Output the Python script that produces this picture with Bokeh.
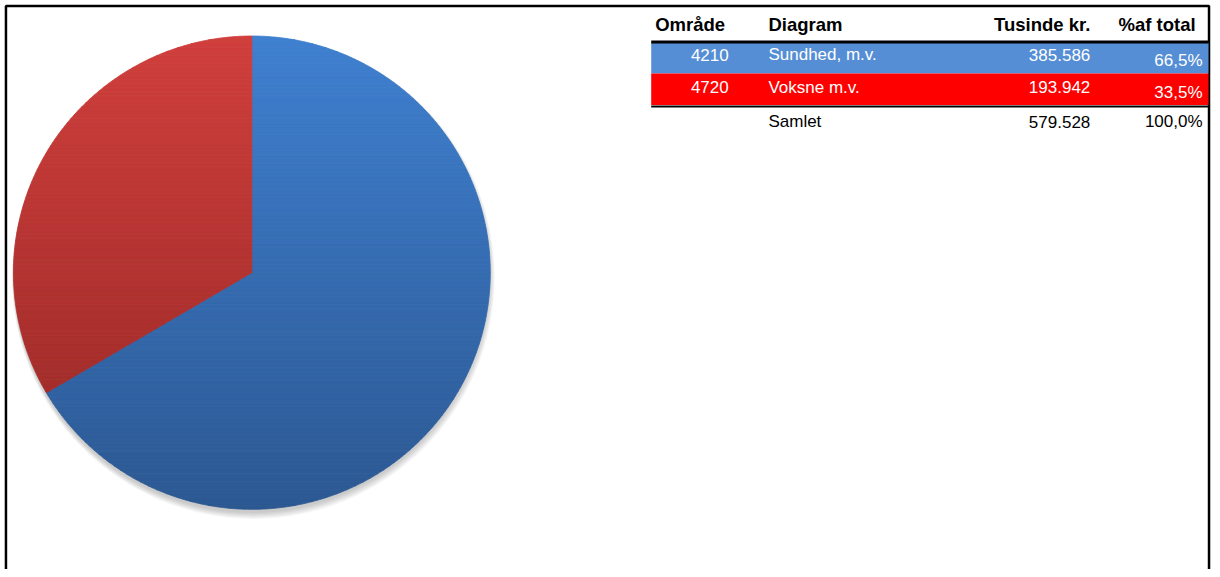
import math
from bokeh.plotting import figure
from bokeh.models import Range1d
from bokeh.core.properties import value
from bokeh.embed import file_html
from bokeh.resources import INLINE

# ---- data ----
omraade = ["4210", "4720"]
diagram = ["Sundhed, m.v.", "Voksne m.v."]
tusinde_kr = [385586, 193942]
row_colors = ["#558ed5", "#ff0000"]
headers = ["Område", "Diagram", "Tusinde kr.", "%af total"]
total_label = "Samlet"
# gradient (top, bottom) colours of the pie slices
slice_grad = [("#3f80d0", "#2c5892"), ("#d03f3c", "#952725")]

W, H = 1212, 569
p = figure(width=W, height=H, output_backend="svg", toolbar_location=None,
           x_range=Range1d(0, 1220), y_range=Range1d(577, 0),
           min_border=0, outline_line_color=None)
p.axis.visible = False
p.grid.visible = False
p.background_fill_color = "white"

FONT = value("Liberation Sans")

# ---- frame ----
p.line([5.5, 5.5, 1216.5, 1216.5], [600, 5.5, 5.5, 600],
       line_color="black", line_width=2.5)

# ---- pie ----
cx, cy, r = 253.0, 276.0, 240.0
total = sum(tusinde_kr)

# soft shadow
for k in range(6):
    p.circle(x=[cx + 0.3 * k], y=[cy + 2 + 0.6 * k], radius=r + 0.6 * k,
             fill_color="#000000", fill_alpha=0.035, line_color=None)

def hex2rgb(h):
    return tuple(int(h[i:i + 2], 16) for i in (1, 3, 5))

def mix(c0, c1, t):
    a, b = hex2rgb(c0), hex2rgb(c1)
    return "#%02x%02x%02x" % tuple(int(round(a[i] + (b[i] - a[i]) * t)) for i in range(3))

def clip_half(poly, y0, keep_above):
    out = []
    n = len(poly)
    for i in range(n):
        P, Q = poly[i], poly[(i + 1) % n]
        pin = P[1] >= y0 if keep_above else P[1] <= y0
        qin = Q[1] >= y0 if keep_above else Q[1] <= y0
        if pin:
            out.append(P)
        if pin != qin:
            t = (y0 - P[1]) / (Q[1] - P[1])
            out.append((P[0] + t * (Q[0] - P[0]), y0))
    return out

xs_all, ys_all, cols = [], [], []
start = 90.0
nb = 120
band_h = 2 * r / nb
for v, (ct, cb) in zip(tusinde_kr, slice_grad):
    span = v / total * 360.0
    a0, a1 = start, start - span
    steps = max(8, int(span * 2))
    poly = [(cx, cy)]
    for i in range(steps + 1):
        a = math.radians(a0 + (a1 - a0) * i / steps)
        poly.append((cx + r * math.cos(a), cy - r * math.sin(a)))
    for b in range(nb):
        y0 = cy - r + b * band_h
        y1 = y0 + band_h
        c = clip_half(poly, y0, True)
        if len(c) < 3:
            continue
        c = clip_half(c, y1, False)
        if len(c) < 3:
            continue
        col = mix(ct, cb, (b + 0.5) / nb)
        xs_all.append([q[0] for q in c])
        ys_all.append([q[1] for q in c])
        cols.append(col)
    start = a1

p.patches(xs_all, ys_all, fill_color=cols, line_color=cols, line_width=0.8)

# ---- table ----
tx0, tx1 = 655, 1216
row_top = [43, 74]
row_bot = [74, 106]
for i, c in enumerate(row_colors):
    p.quad(left=tx0, right=tx1, top=row_top[i], bottom=row_bot[i],
           fill_color=c, line_color=None)
p.line([tx0, tx1], [42, 42], line_color="black", line_width=3)
p.line([tx0, tx1], [107.5, 107.5], line_color="black", line_width=2)

hdr_y = 24
HFS = "18.5px"
p.text(x=[659, 773], y=[hdr_y, hdr_y], text=headers[:2],
       text_font=FONT, text_font_style="bold", text_font_size=HFS,
       text_align="left", text_baseline="middle", text_color="black")
p.text(x=[1097, 1203], y=[hdr_y, hdr_y], text=headers[2:],
       text_font=FONT, text_font_style="bold", text_font_size=HFS,
       text_align="right", text_baseline="middle", text_color="black")

def fmt_num(v):
    return f"{v:,}".replace(",", ".")

def fmt_pct(f):
    return f"{f * 100:.1f}".replace(".", ",") + "%"

row_y = [55, 88]
pct_y = [61, 93]
FS = "17px"
p.text(x=[733] * 2, y=row_y, text=omraade, text_font=FONT, text_font_size=FS,
       text_align="right", text_baseline="middle", text_color="white")
p.text(x=[773] * 2, y=row_y, text=diagram, text_font=FONT, text_font_size=FS,
       text_align="left", text_baseline="middle", text_color="white")
p.text(x=[1097] * 2, y=row_y, text=[fmt_num(v) for v in tusinde_kr],
       text_font=FONT, text_font_size=FS,
       text_align="right", text_baseline="middle", text_color="white")
p.text(x=[1210] * 2, y=pct_y, text=[fmt_pct(v / total) for v in tusinde_kr],
       text_font=FONT, text_font_size=FS,
       text_align="right", text_baseline="middle", text_color="white")

tot_y = 123
p.text(x=[773], y=[tot_y], text=[total_label], text_font=FONT, text_font_size=FS,
       text_align="left", text_baseline="middle", text_color="black")
p.text(x=[1097, 1210], y=[tot_y, tot_y],
       text=[fmt_num(total), fmt_pct(1.0)], text_font=FONT, text_font_size=FS,
       text_align="right", text_baseline="middle", text_color="black")

open("out.html", "w").write(file_html(p, INLINE))
